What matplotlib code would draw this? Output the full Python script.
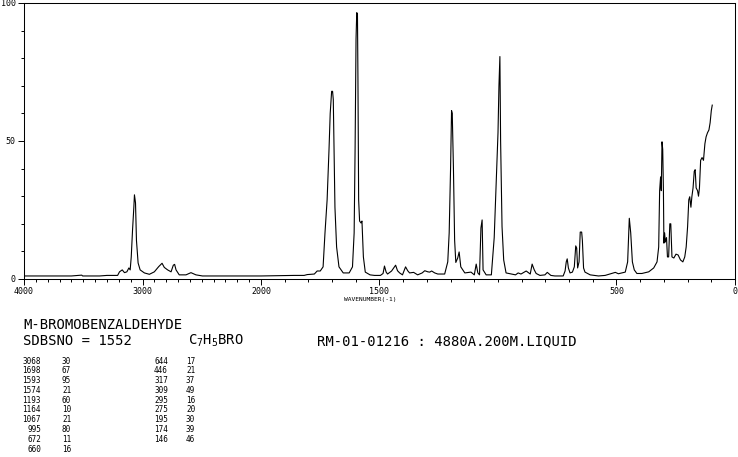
import numpy as np
import matplotlib
matplotlib.use("Agg")
import matplotlib.pyplot as plt
from matplotlib.ticker import FixedLocator, MultipleLocator

plt.rcParams["font.family"] = ["DejaVu Sans Mono"]
plt.rcParams["mathtext.fontset"] = "custom"
plt.rcParams["mathtext.rm"] = "DejaVu Sans Mono"

# Raman trace (wavenumber cm-1, relative intensity)
wavenumber = [
    4000, 3600, 3513, 3505, 3362, 3300, 3210, 3194, 3171, 3152, 3132, 3115, 3104,
    3095, 3084, 3073, 3068, 3059, 3051, 3037, 3020, 2984, 2942, 2900, 2863, 2835,
    2816, 2788, 2759, 2740, 2729, 2717, 2690, 2633, 2591, 2549, 2494, 2300, 2000,
    1860, 1818, 1805, 1775, 1763, 1750, 1738, 1730, 1721, 1713, 1708, 1702, 1698,
    1695, 1691, 1688, 1681, 1671, 1653, 1628, 1614, 1607, 1603, 1599, 1596, 1593,
    1591, 1588, 1584, 1578, 1574, 1568, 1560, 1540, 1521, 1496, 1485, 1479, 1472,
    1466, 1449, 1440, 1432, 1424, 1415, 1403, 1390, 1381, 1373, 1356, 1339, 1320,
    1309, 1296, 1288, 1280, 1267, 1254, 1225, 1212, 1206, 1200, 1196, 1193, 1188,
    1183, 1178, 1170, 1164, 1157, 1140, 1114, 1100, 1092, 1085, 1078, 1072, 1067,
    1063, 1050, 1028, 1016, 1007, 1000, 996, 992, 989, 983, 976, 966, 926, 915,
    903, 881, 864, 856, 847, 839, 823, 802, 792, 777, 760, 725, 717, 712, 708, 703,
    696, 686, 678, 672, 668, 664, 658, 653, 647, 644, 639, 633, 611, 576, 548, 505,
    492, 463, 453, 448, 446, 440, 433, 425, 414, 393, 364, 343, 329, 322, 318, 314,
    311, 308, 305, 302, 300, 297, 294, 289, 285, 280, 275, 271, 268, 266, 258, 249,
    240, 230, 220, 212, 206, 200, 195, 191, 186, 182, 177, 172, 168, 164, 158, 154,
    150, 145, 139, 133, 127, 122, 116, 110, 105, 100, 96,
]
intensity = [
    1.1, 1.1, 1.4, 1.1, 1.1, 1.3, 1.3, 2.6, 3.3, 2.3, 2.6, 4.0, 3.3,
    8.0, 17.8, 26, 30.5, 27.6, 14, 5.8, 3.3, 2.2, 1.7, 2.6, 4.5, 5.7,
    4.2, 3.3, 2.6, 5.0, 5.3, 3.3, 1.5, 1.5, 2.3, 1.5, 1.1, 1.1, 1.1,
    1.3, 1.3, 1.6, 1.8, 2.9, 2.9, 4.4, 16.7, 28.7, 47, 60, 68, 68,
    65, 43, 26, 11.6, 4.4, 2.2, 2.2, 4.4, 16.7, 47, 87, 96.5, 96,
    73, 28.7, 21, 20.3, 21, 8, 2.5, 1.5, 1.3, 1.3, 2.0, 4.7, 2.5,
    1.8, 2.9, 4.0, 5.0, 3.0, 2.2, 1.5, 4.4, 3.0, 2.2, 2.4, 1.5, 2.2,
    3.0, 2.6, 2.5, 2.9, 2.2, 1.8, 1.8, 6.2, 16.7, 40.6, 61, 60, 40,
    14, 6, 7.6, 9.8, 4.4, 2.2, 2.5, 1.5, 5.4, 2.2, 1.5, 18.5, 21.4,
    3.3, 1.5, 1.5, 15, 36, 53, 70, 80.6, 50, 19, 6.9, 2.2, 1.5, 2.2,
    1.8, 2.9, 1.8, 5.4, 3.3, 2.0, 1.3, 1.5, 2.4, 1.3, 1.1, 1.1, 2.9, 6.2, 7.3, 4.0,
    2.2, 2.5, 4.4, 12, 11.2, 4.0, 6.2, 17, 17, 14, 4.0, 2.5, 1.5, 1.1, 1.3, 2.4,
    1.9, 2.5, 6.2, 17, 22, 16.7, 6.2, 3.3, 2.0, 2.0, 2.6, 4.0, 6.2, 11.6, 32, 37,
    32, 49.7, 47, 32, 13, 16.7, 13.4, 15, 8, 8, 20, 20, 13, 8, 7.6, 9,
    8.7, 6.9, 6.2, 8, 11.6, 19, 28.7, 29.8, 26, 29.8, 33, 39, 39.6, 33, 32, 30,
    33, 43, 44, 43, 49, 51.5, 53, 54, 56.6, 61, 63,
]

# peak table printed under the chart
peak_wn = [3068, 1698, 1593, 1574, 1193, 1164, 1067, 995, 672, 660,
           644, 446, 317, 309, 295, 275, 195, 174, 146]
peak_int = [30, 67, 95, 21, 60, 10, 21, 80, 11, 16,
            17, 21, 37, 49, 16, 20, 30, 39, 46]

x_major = [4000, 3000, 2000, 1500, 500, 0]
y_major = [0, 50, 100]

W, H = 738, 457


def fwd(w):
    w = np.asarray(w, dtype=float)
    return np.where(w > 2000, 2000 + (w - 2000) / 2, w)


def inv(p):
    p = np.asarray(p, dtype=float)
    return np.where(p > 2000, 2000 + (p - 2000) * 2, p)


def fx(px):
    return px / W


def fy(py):
    return 1 - py / H


fig = plt.figure(figsize=(W / 100, H / 100), dpi=100)
ax = fig.add_axes([fx(24), fy(279), 711 / W, 276 / H])

ax.plot(wavenumber, intensity, color="black", linewidth=0.8)

ax.set_xscale("function", functions=(fwd, inv))
ax.set_xlim(4000, 0)
ax.set_ylim(0, 100)

ax.xaxis.set_major_locator(FixedLocator(x_major))
ax.xaxis.set_minor_locator(FixedLocator(list(range(0, 4001, 100))))
ax.set_xticklabels([str(v) for v in x_major])
ax.yaxis.set_major_locator(FixedLocator(y_major))
ax.yaxis.set_minor_locator(MultipleLocator(10))
ax.set_yticklabels([str(v) for v in y_major])

ax.tick_params(which="major", direction="out", length=4.5, width=0.7,
               labelsize=6, pad=1.5, color="black")
ax.tick_params(which="minor", direction="out", length=2.2, width=0.7)
for s in ax.spines.values():
    s.set_linewidth(0.75)

fig.text(fx(370), fy(299), "WAVENUMBER(-1)", ha="center", va="center", fontsize=4.5)

fig.text(fx(23), fy(325), "M-BROMOBENZALDEHYDE", ha="left", va="center", fontsize=10)
fig.text(fx(23), fy(341), "SDBSNO = 1552", ha="left", va="center", fontsize=10)
fig.text(fx(188), fy(341), r"C$_\mathregular{7}$H$_\mathregular{5}$BRO",
         ha="left", va="center", fontsize=10)
fig.text(fx(317), fy(341), "RM-01-01216 : 4880A.200M.LIQUID",
         ha="left", va="center", fontsize=10)

row_h = 9.8
for i, (w, v) in enumerate(zip(peak_wn, peak_int)):
    if i < 10:
        xr, xv, row = 41, 62, i
    else:
        xr, xv, row = 168, 186, i - 10
    y = 361 + row * row_h
    fig.text(fx(xr), fy(y), str(w), ha="right", va="center", fontsize=5.5)
    fig.text(fx(xv), fy(y), str(v), ha="left", va="center", fontsize=5.5)

fig.savefig("out.png", dpi=100)
